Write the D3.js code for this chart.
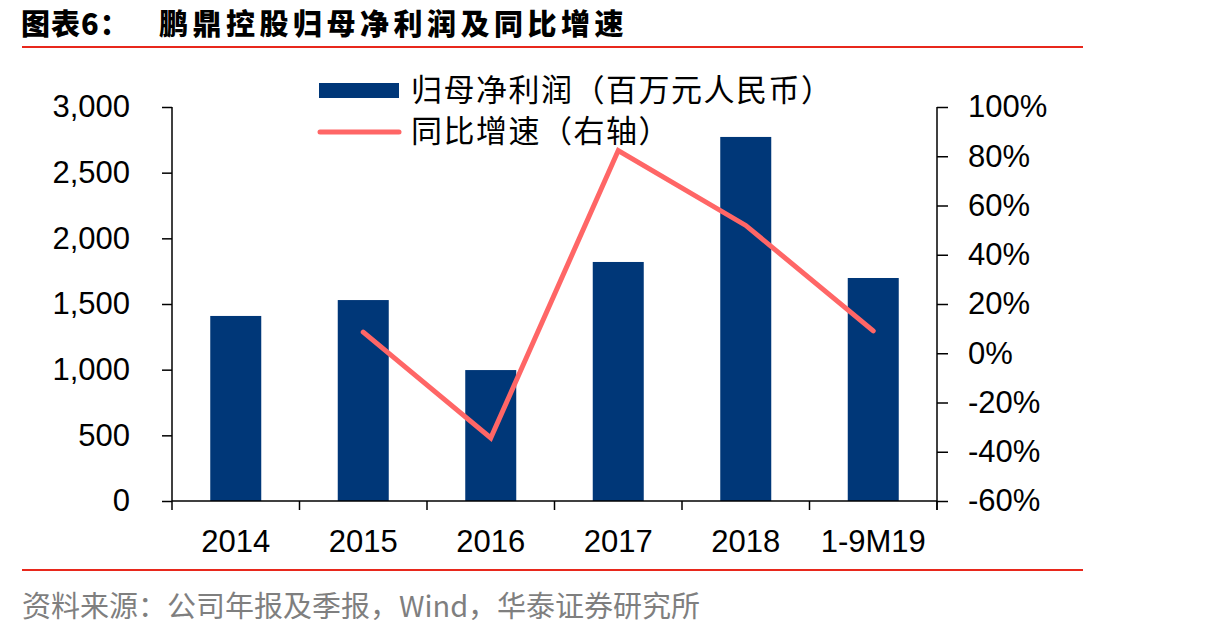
<!DOCTYPE html>
<html>
<head>
<meta charset="utf-8">
<script src="https://cdn.jsdelivr.net/npm/d3@7"></script>
<style>
    body { margin: 0; background: #fff; }
    svg text { font-family: "Liberation Sans", Arial, sans-serif; }
    .cjk { font-family: "Noto Sans CJK SC", sans-serif; }
</style>
</head>
<body>
<div id="chart-container"></div>
<script>
// chart data
const categories = ['2014', '2015', '2016', '2017', '2018', '1-9M19'];
const netProfit = [1409, 1530, 997, 1820, 2772, 1698];
const yoyGrowth = [null, 8.6, -34.4, 82.3, 51.9, 9.1];
const leftTicks = [0, 500, 1000, 1500, 2000, 2500, 3000];
const rightTicks = [-60, -40, -20, 0, 20, 40, 60, 80, 100];

function createChart(elementId) {
    const width = 1207;
    const height = 638;
    const plot = { left: 172, right: 937, top: 107, bottom: 501 };

    const svg = d3.select(elementId).append('svg').attr('width', width).attr('height', height);

    // title and rules
    svg.append('text')
        .attr('class', 'cjk')
        .attr('x', 21).attr('y', 35)
        .style('font-size', '29px').style('font-weight', 900)
        .style('letter-spacing', '1px')
        .text('图表6：');
    svg.append('text')
        .attr('class', 'cjk')
        .attr('x', 159).attr('y', 35)
        .style('font-size', '29px').style('font-weight', 900)
        .style('letter-spacing', '4.5px')
        .text('鹏鼎控股归母净利润及同比增速');

    svg.append('line').attr('x1', 22).attr('x2', 1083).attr('y1', 47).attr('y2', 47)
        .attr('stroke', '#e8281c').attr('stroke-width', 2);
    svg.append('line').attr('x1', 22).attr('x2', 1083).attr('y1', 570).attr('y2', 570)
        .attr('stroke', '#e8281c').attr('stroke-width', 2);

    svg.append('text')
        .attr('class', 'cjk')
        .attr('x', 22).attr('y', 617)
        .style('font-size', '29px').attr('fill', '#7f7f7f')
        .text('资料来源：公司年报及季报，Wind，华泰证券研究所');

    // scales
    const xBand = d3.scaleBand().domain(categories).range([plot.left, plot.right]);
    const yLeft = d3.scaleLinear().domain([0, 3000]).range([plot.bottom, plot.top]);
    const yRight = d3.scaleLinear().domain([-60, 100]).range([plot.bottom, plot.top]);

    // bars
    svg.append('g').selectAll('rect')
        .data(categories)
        .join('rect')
        .attr('x', d => xBand(d) + xBand.bandwidth() * 0.3)
        .attr('width', xBand.bandwidth() * 0.4)
        .attr('y', (d, i) => yLeft(netProfit[i]))
        .attr('height', (d, i) => plot.bottom - yLeft(netProfit[i]))
        .attr('fill', '#003778');

    // left axis
    const leftAxis = svg.append('g')
        .attr('transform', `translate(${plot.left},0)`)
        .call(d3.axisLeft(yLeft).tickValues(leftTicks).tickSize(10).tickPadding(32).tickFormat(d3.format(',')));
    // right axis
    const rightAxis = svg.append('g')
        .attr('transform', `translate(${plot.right},0)`)
        .call(d3.axisRight(yRight).tickValues(rightTicks).tickSize(11).tickPadding(20).tickFormat(d => d + '%'));
    // bottom axis
    const bottomAxis = svg.append('g')
        .attr('transform', `translate(0,${plot.bottom})`)
        .call(d3.axisBottom(xBand).tickSize(0).tickPadding(29));

    // ticks at band edges on bottom axis
    const edges = categories.map(d => xBand(d)).concat([plot.right]);
    svg.append('g').selectAll('line')
        .data(edges)
        .join('line')
        .attr('x1', d => d).attr('x2', d => d)
        .attr('y1', plot.bottom).attr('y2', plot.bottom + 9)
        .attr('stroke', '#000').attr('stroke-width', 1.5);

    [leftAxis, rightAxis, bottomAxis].forEach(a => {
        a.select('.domain').attr('stroke', '#000').attr('stroke-width', 1.5);
        a.selectAll('.tick line').attr('stroke', '#000').attr('stroke-width', 1.5);
        a.selectAll('text').style('font-size', '31px').attr('fill', '#000')
            .style('font-family', '"Liberation Sans", Arial, sans-serif');
    });
    leftAxis.select('.domain').attr('d', `M0,${plot.top}V${plot.bottom}`);
    rightAxis.select('.domain').attr('d', `M0,${plot.top}V${plot.bottom + 9}`);
    bottomAxis.select('.domain').attr('d', `M${plot.left},0H${plot.right}`);

    // growth line
    const linePts = categories.map((c, i) => ({ c, v: yoyGrowth[i] })).filter(d => d.v !== null);
    const line = d3.line()
        .x(d => xBand(d.c) + xBand.bandwidth() / 2)
        .y(d => yRight(d.v));
    svg.append('path')
        .datum(linePts)
        .attr('d', line)
        .attr('fill', 'none')
        .attr('stroke', '#ff6666')
        .attr('stroke-width', 5)
        .attr('stroke-linecap', 'round')
        .attr('stroke-linejoin', 'miter');

    // legend
    const legend = svg.append('g');
    legend.append('rect').attr('x', 319).attr('y', 83).attr('width', 80).attr('height', 15).attr('fill', '#003778');
    legend.append('line').attr('x1', 320).attr('x2', 399).attr('y1', 132).attr('y2', 132)
        .attr('stroke', '#ff6666').attr('stroke-width', 5).attr('stroke-linecap', 'round');
    legend.append('text').attr('class', 'cjk').attr('x', 411).attr('y', 101)
        .style('font-size', '31px').style('letter-spacing', '1.5px').text('归母净利润（百万元人民币）');
    legend.append('text').attr('class', 'cjk').attr('x', 411).attr('y', 142)
        .style('font-size', '31px').style('letter-spacing', '1.5px').text('同比增速（右轴）');
}

createChart('#chart-container');
</script>
</body>
</html>
